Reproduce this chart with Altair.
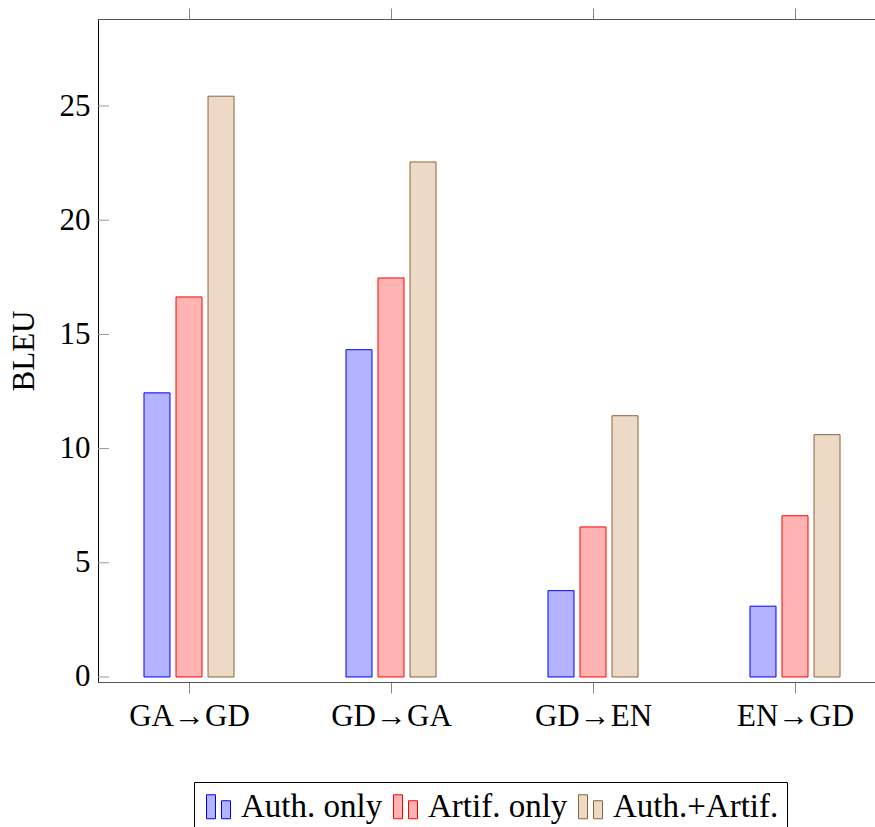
import json
import altair as alt
import pandas as pd

categories = ["GA→GD", "GD→GA", "GD→EN", "EN→GD"]
series = ["Auth. only", "Artif. only", "Auth.+Artif."]
auth_only = [12.44, 14.33, 3.78, 3.10]
artif_only = [16.64, 17.47, 6.57, 7.06]
auth_artif = [25.43, 22.55, 11.44, 10.61]
y_ticks = [0, 5, 10, 15, 20, 25]

fills = ["#b3b3ff", "#ffb3b3", "#ecd9c6"]
strokes = ["#0000ff", "#ff0000", "#8f6339"]

FONT = "Liberation Serif"
FS = 31
LFS = 33

rows = []
for s_idx, (name, vals) in enumerate(zip(series, [auth_only, artif_only, auth_artif])):
    for c_idx, (cat, v) in enumerate(zip(categories, vals)):
        rows.append({"cat": cat, "cat_idx": c_idx, "series": name, "s_idx": s_idx, "value": v})
df = pd.DataFrame(rows)
cat_df = pd.DataFrame({"cat": categories, "cat_idx": list(range(len(categories)))})
tick_df = pd.DataFrame({"v": y_ticks})

xscale = alt.Scale(domain=[-0.4505, 3.396], nice=False, zero=False, padding=0)
yscale = alt.Scale(domain=[-0.22, 28.81], nice=False, zero=False, padding=0)

label_expr = json.dumps(categories) + "[datum.value]"

legend_icon = "M-1,-1H-0.25V1H-1Z M0.25,-0.5H1V1H0.25Z"

def make_legend():
    return alt.Legend(orient="none", direction="horizontal", legendX=96, legendY=763,
                      symbolType=legend_icon, symbolSize=576, symbolStrokeWidth=1,
                      labelFont=FONT, labelFontSize=LFS, labelColor="black",
                      labelOffset=6, columnPadding=6, labelLimit=400, strokeColor="black",
                      padding=8, fillColor="white", symbolOpacity=1)

bars = alt.Chart(df).transform_calculate(
    xpos="datum.cat_idx + (datum.s_idx - 1) * 0.1585"
).mark_bar(size=26, strokeWidth=1, opacity=1).encode(
    x=alt.X("xpos:Q", scale=xscale,
            axis=alt.Axis(orient="bottom", values=[0, 1, 2, 3], labelExpr=label_expr,
                          title=None, grid=False, domainColor="#555", tickColor="#888",
                          tickSize=11, labelFont=FONT, labelFontSize=FS, labelColor="black",
                          labelPadding=8)),
    y=alt.Y("value:Q", scale=yscale,
            axis=alt.Axis(orient="left", values=y_ticks, ticks=False, grid=False,
                          domainColor="black", labelFont=FONT, labelFontSize=FS,
                          labelColor="black", labelPadding=8, title="BLEU",
                          titleFont=FONT, titleFontSize=FS, titleFontWeight="normal",
                          titleColor="black", titlePadding=19)),
    y2=alt.datum(0),
    fill=alt.Fill("series:N", scale=alt.Scale(domain=series, range=fills), title=None,
                  legend=make_legend()),
    stroke=alt.Stroke("series:N", scale=alt.Scale(domain=series, range=strokes), title=None,
                      legend=make_legend()),
)

top_axis = alt.Chart(cat_df).mark_point(opacity=0).encode(
    x=alt.X("cat_idx:Q", scale=xscale,
            axis=alt.Axis(orient="top", values=[0, 1, 2, 3], labels=False, title=None,
                          grid=False, domainColor="#555", tickColor="#888", tickSize=11)),
    y=alt.Y("cat_idx:Q", scale=yscale, axis=None),
)

y_inner_ticks = alt.Chart(tick_df).mark_rule(color="#999", strokeWidth=1).encode(
    y=alt.Y("v:Q", scale=yscale, axis=None),
    x=alt.value(0),
    x2=alt.value(11),
)

chart = alt.layer(bars, y_inner_ticks, top_axis).resolve_axis(
    x="independent", y="independent"
).properties(
    width=777, height=663,
    autosize=alt.AutoSizeParams(type="none"),
    padding={"left": 98, "top": 19, "right": 0, "bottom": 145},
    background="white",
).configure_view(stroke=None)

chart.save("out.html", embed_options={"renderer": "svg", "actions": False})
